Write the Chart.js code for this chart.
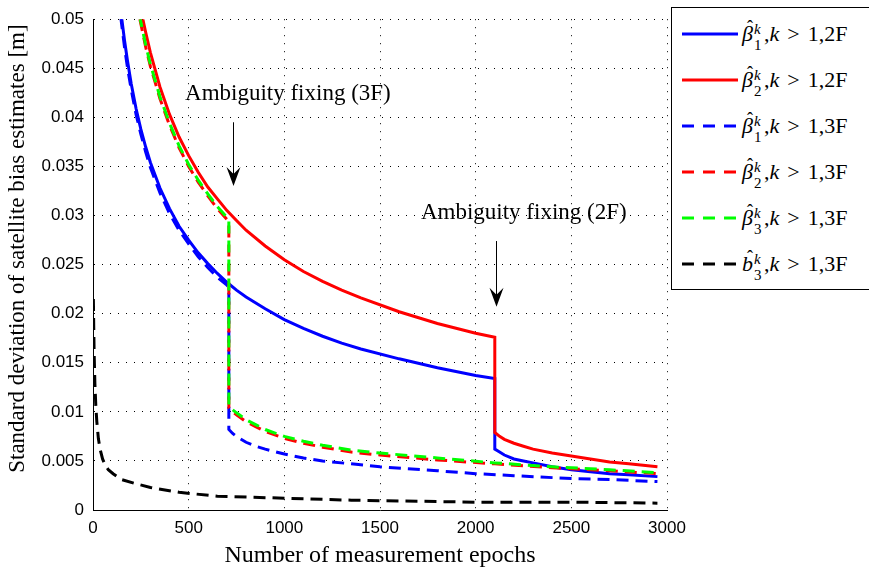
<!DOCTYPE html>
<html>
<head>
<meta charset="utf-8">
<script src="https://cdn.jsdelivr.net/npm/chart.js@4"></script>
<style>
  html, body { margin: 0; padding: 0; background: #fff; }
  #wrap { position: relative; width: 869px; height: 570px; overflow: hidden; }
  #legend {
    position: absolute; left: 671px; top: 7px; width: 200px; height: 283px;
    border: 1px solid #000; background: #fff; box-sizing: border-box;
    font-family: "Liberation Serif", serif; font-size: 22px; color: #000;
  }
  .row { position: absolute; left: 10px; height: 30px; display: flex; align-items: center; white-space: nowrap; }
  .row svg { margin-right: 4px; }
  .sym { position: relative; display: inline-block; }
  .acc { position: absolute; left: 5px; top: -3px; font-size: 18px; line-height: 1; font-style: normal; }
  .ss { position: relative; display: inline-block; width: 11px; height: 0; }
  .ss .sup, .ss .sub { position: absolute; left: 1px; font-size: 15px; line-height: 15px; }
  .ss .sup { top: -19px; font-style: italic; }
  .ss .sub { top: -3px; }
  .gt { margin: 0 8px; }
</style>
</head>
<body>
<div id="wrap">
  <canvas id="chart" width="869" height="570"></canvas>
  <div id="legend"></div>
</div>
<script>
// Series (epochs vs. std. dev. in metres)
const b1_2F_x = [150, 165, 180, 200, 225, 250, 275, 300, 350, 400, 450, 500, 550, 600, 650, 700, 750, 800, 900, 1000, 1100, 1200, 1300, 1400, 1600, 1800, 2000, 2100, 2100, 2125, 2150, 2200, 2250, 2300, 2400, 2500, 2600, 2700, 2800, 2950];
const b1_2F_y = [0.0501, 0.0478, 0.0458, 0.0434, 0.0409, 0.0388, 0.0370, 0.0354, 0.0328, 0.0307, 0.0289, 0.0275, 0.0262, 0.0251, 0.0241, 0.0232, 0.0224, 0.0217, 0.0205, 0.0194, 0.0185, 0.0177, 0.0170, 0.0164, 0.0154, 0.0145, 0.0137, 0.0134, 0.0062, 0.0059, 0.0056, 0.0052, 0.0050, 0.0048, 0.0044, 0.0041, 0.0039, 0.0037, 0.0036, 0.0034];

const b2_2F_x = [255, 275, 300, 350, 400, 450, 500, 550, 600, 650, 700, 750, 800, 900, 1000, 1100, 1200, 1300, 1400, 1600, 1800, 2000, 2100, 2100, 2125, 2150, 2200, 2250, 2300, 2400, 2500, 2600, 2700, 2800, 2950];
const b2_2F_y = [0.0505, 0.0487, 0.0466, 0.0431, 0.0403, 0.0380, 0.0361, 0.0344, 0.0329, 0.0317, 0.0305, 0.0295, 0.0285, 0.0269, 0.0255, 0.0243, 0.0233, 0.0224, 0.0216, 0.0202, 0.0190, 0.0180, 0.0176, 0.0079, 0.0075, 0.0072, 0.0068, 0.0065, 0.0062, 0.0058, 0.0055, 0.0052, 0.0049, 0.0047, 0.0044];

const b1_3F_x = [145, 165, 180, 200, 225, 250, 275, 300, 350, 400, 450, 500, 550, 600, 650, 700, 710, 710, 730, 750, 800, 850, 900, 1000, 1100, 1200, 1350, 1500, 1800, 2000, 2200, 2500, 2700, 2950];
const b1_3F_y = [0.0502, 0.0471, 0.0451, 0.0428, 0.0403, 0.0383, 0.0365, 0.0349, 0.0323, 0.0302, 0.0285, 0.0271, 0.0258, 0.0247, 0.0237, 0.0229, 0.0227, 0.0082, 0.0078, 0.0075, 0.0069, 0.0065, 0.0062, 0.0057, 0.0053, 0.0050, 0.0047, 0.0044, 0.0040, 0.0037, 0.0035, 0.0032, 0.0031, 0.0029];

const b2_3F_x = [245, 260, 275, 300, 350, 400, 450, 500, 550, 600, 650, 700, 710, 710, 730, 750, 800, 850, 900, 1000, 1100, 1200, 1350, 1500, 1800, 2100, 2400, 2700, 2950];
const b2_3F_y = [0.0500, 0.0486, 0.0472, 0.0452, 0.0419, 0.0392, 0.0369, 0.0350, 0.0334, 0.0320, 0.0307, 0.0296, 0.0294, 0.0104, 0.0100, 0.0097, 0.0090, 0.0085, 0.0080, 0.0073, 0.0068, 0.0064, 0.0059, 0.0056, 0.0051, 0.0047, 0.0043, 0.0040, 0.0037];

const b3_3F_x = [247, 260, 275, 300, 350, 400, 450, 500, 550, 600, 650, 700, 710, 710, 730, 750, 800, 850, 900, 1000, 1100, 1200, 1350, 1500, 1800, 2100, 2400, 2700, 2950];
const b3_3F_y = [0.0500, 0.0488, 0.0474, 0.0454, 0.0421, 0.0394, 0.0371, 0.0352, 0.0336, 0.0322, 0.0309, 0.0298, 0.0296, 0.0106, 0.0102, 0.0099, 0.0092, 0.0087, 0.0082, 0.0075, 0.0070, 0.0066, 0.0061, 0.0058, 0.0053, 0.0048, 0.0044, 0.0041, 0.0038];

const bias_3F_x = [2, 4, 6, 10, 15, 20, 28, 37, 50, 63, 80, 105, 150, 220, 300, 450, 650, 1000, 1350, 2000, 2500, 2950];
const bias_3F_y = [0.0215, 0.0185, 0.0160, 0.0128, 0.0105, 0.0090, 0.0073, 0.0062, 0.0052, 0.0046, 0.0041, 0.0037, 0.0031, 0.0027, 0.0023, 0.0018, 0.0014, 0.0012, 0.0010, 0.0008, 0.0008, 0.0007];

// Legend pieces
const legendSymbols = ['β', 'β', 'β', 'β', 'β', 'b'];
const legendSubs = ['1', '2', '1', '2', '3', '3'];
const legendModes = ['1,2F', '1,2F', '1,3F', '1,3F', '1,3F', '1,3F'];

const seriesX = [b1_2F_x, b2_2F_x, b1_3F_x, b2_3F_x, b3_3F_x, bias_3F_x];
const seriesY = [b1_2F_y, b2_2F_y, b1_3F_y, b2_3F_y, b3_3F_y, bias_3F_y];
const seriesColors = ['#0000ff', '#ff0000', '#0000ff', '#ff0000', '#00ff00', '#000000'];
const seriesDashed = [false, false, true, true, true, true];

const xTicks = [0, 500, 1000, 1500, 2000, 2500, 3000];
const yTicks = [0, 0.005, 0.01, 0.015, 0.02, 0.025, 0.03, 0.035, 0.04, 0.045, 0.05];

const yTitle = 'Standard deviation of satellite bias estimates [m]';

// Annotation text and arrows (data coordinates)
const notes = [
    { text: 'Ambiguity fixing (3F)', x: 481, y: 0.0418, ax: 732, ay0: 0.0395, ay1: 0.0330 },
    { text: 'Ambiguity fixing (2F)', x: 1714, y: 0.0296, ax: 2106, ay0: 0.0274, ay1: 0.0207 }
];

const DASH = [12, 7];

const datasets = seriesX.map((xs, i) => ({
    label: legendSymbols[i] + legendSubs[i] + ' ' + legendModes[i],
    data: xs.map((x, j) => ({ x: x, y: seriesY[i][j] })),
    borderColor: seriesColors[i],
    borderWidth: 3,
    borderDash: seriesDashed[i] ? DASH : [],
    borderDashOffset: i === 4 ? 4 : 0,
    pointRadius: 0,
    tension: 0,
    fill: false,
    order: 6 - i
}));

// Arrows, notes and the y title drawn on the canvas
const notesPlugin = {
    id: 'notes',
    afterDatasetsDraw(chart) {
        const { ctx, scales: { x, y } } = chart;
        ctx.save();
        ctx.fillStyle = '#000';
        ctx.strokeStyle = '#000';
        ctx.font = '23px "Liberation Serif"';
        ctx.textBaseline = 'alphabetic';
        notes.forEach(n => {
            ctx.fillText(n.text, x.getPixelForValue(n.x), y.getPixelForValue(n.y));
            const px = Math.round(x.getPixelForValue(n.ax)) + 0.5;
            const top = y.getPixelForValue(n.ay0);
            const tip = y.getPixelForValue(n.ay1);
            ctx.lineWidth = 1;
            ctx.beginPath();
            ctx.moveTo(px, top);
            ctx.lineTo(px, tip - 8);
            ctx.stroke();
            ctx.beginPath();
            ctx.moveTo(px, tip);
            ctx.lineTo(px - 7, tip - 19);
            ctx.lineTo(px, tip - 12);
            ctx.lineTo(px + 7, tip - 19);
            ctx.closePath();
            ctx.fill();
        });
        // y axis label, sitting a little above the axis middle as in the figure
        ctx.translate(18, (y.top + y.bottom) / 2 - 16);
        ctx.rotate(-Math.PI / 2);
        ctx.textAlign = 'center';
        ctx.textBaseline = 'middle';
        ctx.fillText(yTitle, 0, 0);
        ctx.restore();
    }
};

const ctx = document.getElementById('chart').getContext('2d');
const chart = new Chart(ctx, {
    type: 'line',
    data: { datasets },
    options: {
        responsive: false,
        animation: false,
        layout: { padding: { left: 0, right: 202, top: 8, bottom: 0 } },
        plugins: { legend: { display: false }, tooltip: { enabled: false } },
        scales: {
            x: {
                type: 'linear',
                min: 0,
                max: 3000,
                afterBuildTicks: s => { s.ticks = xTicks.map(v => ({ value: v })); },
                afterFit: s => { s.height = 60; },
                ticks: { color: '#000', padding: 8, maxRotation: 0, callback: v => String(v), font: { family: 'Liberation Sans', size: 17 } },
                grid: { color: '#000', lineWidth: 1, drawTicks: false },
                border: { display: true, color: '#000', width: 1, dash: [1, 7] },
                title: { display: true, text: 'Number of measurement epochs', color: '#000', padding: { top: 0, bottom: 0 }, font: { family: 'Liberation Serif', size: 24 } }
            },
            y: {
                type: 'linear',
                min: 0,
                max: 0.05,
                afterBuildTicks: s => { s.ticks = yTicks.map(v => ({ value: v })); },
                afterFit: s => { s.width = 93; },
                ticks: { color: '#000', padding: 9, callback: v => String(+v.toFixed(3)), font: { family: 'Liberation Sans', size: 17 } },
                grid: { color: '#000', lineWidth: 1, drawTicks: false },
                border: { display: true, color: '#000', width: 1, dash: [1, 7] },
                title: { display: false }
            }
        }
    },
    plugins: [notesPlugin]
});

// Legend box built from the datasets
const legend = document.getElementById('legend');
chart.data.datasets.forEach((ds, i) => {
    const row = document.createElement('div');
    row.className = 'row';
    row.style.top = (11 + i * 46) + 'px';
    const dash = seriesDashed[i] ? 'stroke-dasharray="12 9"' : '';
    row.innerHTML =
        `<svg width="56" height="6"><line x1="0" y1="3" x2="56" y2="3" stroke="${ds.borderColor}" stroke-width="3" ${dash}/></svg>` +
        `<span><span class="sym"><i>${legendSymbols[i]}</i><span class="acc">ˆ</span></span>` +
        `<span class="ss"><span class="sup">k</span><span class="sub">${legendSubs[i]}</span></span>,<i>k</i>` +
        `<span class="gt">&gt;</span>${legendModes[i]}</span>`;
    legend.appendChild(row);
});
</script>
</body>
</html>
